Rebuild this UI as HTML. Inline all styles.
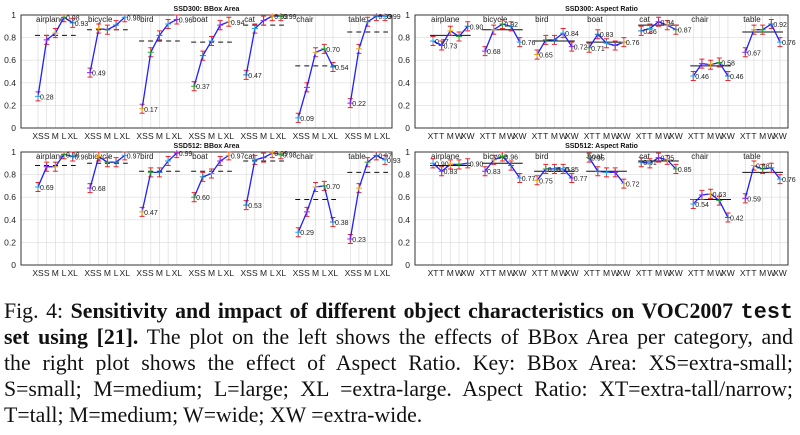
<!DOCTYPE html>
<html><head><meta charset="utf-8">
<style>
html,body{margin:0;padding:0;background:#fff;}
body{width:800px;height:435px;position:relative;overflow:hidden;}
svg{position:absolute;left:0;top:0;}
.cap{position:absolute;left:4px;width:789px;font-family:"Liberation Serif",serif;font-size:21.8px;line-height:26px;white-space:nowrap;color:#111;}
.j{text-align:justify;text-align-last:justify;white-space:normal;}
.mono{font-family:"Liberation Mono",monospace;font-weight:bold;}
</style></head>
<body>
<svg id="chart" width="800" height="290" font-family="Liberation Sans, sans-serif"></svg>

<div class="cap j" style="top:298px">Fig. 4: <b>Sensitivity and impact of different object characteristics on VOC2007 <span class="mono">test</span></b></div>
<div class="cap j" style="top:324px"><b>set using [21].</b> The plot on the left shows the effects of BBox Area per category, and</div>
<div class="cap j" style="top:350px">the right plot shows the effect of Aspect Ratio. Key: BBox Area: XS=extra-small;</div>
<div class="cap j" style="top:376px">S=small; M=medium; L=large; XL =extra-large. Aspect Ratio: XT=extra-tall/narrow;</div>
<div class="cap" style="top:402px">T=tall; M=medium; W=wide; XW =extra-wide.</div>

<script>
const categories = ["airplane","bicycle","bird","boat","cat","chair","table"];
const areaTicks = ["XS","S","M","L","XL"];
const ratioTicks = ["XT","T","M","W","XW"];
const yTicks = [0,0.2,0.4,0.6,0.8,1];
const errSize = 0.04;

const ssd300Area = [[0.28,0.78,0.84,0.98,0.93],[0.49,0.88,0.87,0.91,0.98],[0.17,0.67,0.82,0.92,0.96],[0.37,0.64,0.77,0.91,0.94],[0.47,0.88,0.95,0.99,0.99],[0.09,0.36,0.67,0.70,0.54],[0.22,0.70,0.94,0.99,0.99]];
const ssd300AreaAvg = [0.82,0.87,0.77,0.76,0.91,0.55,0.85];
const ssd300Ratio = [[0.77,0.73,0.86,0.81,0.90],[0.68,0.87,0.92,0.90,0.76],[0.65,0.78,0.78,0.84,0.72],[0.71,0.83,0.75,0.73,0.76],[0.86,0.88,0.94,0.91,0.87],[0.46,0.57,0.56,0.58,0.46],[0.67,0.87,0.87,0.92,0.76]];
const ssd300RatioAvg = [0.82,0.87,0.77,0.76,0.91,0.55,0.85];
const ssd512Area = [[0.69,0.87,0.87,0.98,0.96],[0.68,0.96,0.91,0.91,0.97],[0.47,0.82,0.82,0.92,0.99],[0.60,0.78,0.81,0.92,0.97],[0.53,0.93,0.95,0.99,0.98],[0.29,0.47,0.69,0.70,0.38],[0.23,0.68,0.91,0.97,0.93]];
const ssd512AreaAvg = [0.88,0.90,0.83,0.83,0.92,0.58,0.82];
const ssd512Ratio = [[0.90,0.83,0.89,0.89,0.90],[0.83,0.93,0.96,0.88,0.77],[0.75,0.85,0.85,0.85,0.77],[0.95,0.83,0.82,0.82,0.72],[0.91,0.90,0.95,0.93,0.85],[0.54,0.62,0.63,0.57,0.42],[0.59,0.88,0.85,0.86,0.76]];
const ssd512RatioAvg = [0.88,0.90,0.83,0.83,0.92,0.58,0.82];

const NS="http://www.w3.org/2000/svg";
const svg=document.getElementById('chart');
const markerColors=["#29a3e0","#8a2be2","#e8a317","#2ca02c","#1f77b4"];
function mk(tag,attrs,parent){const e=document.createElementNS(NS,tag);for(const k in attrs)e.setAttribute(k,attrs[k]);(parent||svg).appendChild(e);return e;}

function panel(cfg){
  const g=mk('g',{});
  
  
  const L=cfg.left,R=cfg.right,T=cfg.top,B=cfg.bottom,x0=cfg.x0,slot=8.675;
  const y=v=>B-(B-T)*v;
  const x=(gi,k)=>x0+(gi*6+k)*slot;
  yTicks.forEach(t=>{
    const l=mk('line',{x1:L,x2:R,y1:y(t),y2:y(t),stroke:'#dcdcdc','stroke-width':0.6},g);
    
    
    const tx=mk('text',{x:L-5,y:y(t)+3,'font-size':8.5,'text-anchor':'end',fill:'#222'},g);
    tx.textContent=String(t);
    
    
  });
  categories.forEach((c,gi)=>{
    cfg.ticks.forEach((tk,k)=>{
      const vl=mk('line',{x1:x(gi,k),x2:x(gi,k),y1:T,y2:B,stroke:'#dcdcdc','stroke-width':0.7},g);
      
      
      const lab=mk('text',{x:x(gi,k),y:B+11,'font-size':8.5,'text-anchor':'middle',fill:'#222'},g);
      lab.textContent=tk;
      
      
    });
  });
  const fr=mk('rect',{x:L,y:T,width:R-L,height:B-T,fill:'none',stroke:'#333','stroke-width':1},g);
  
  
  const ti=mk('text',{x:(L+R)/2,y:T-4,'font-size':7,'font-weight':'bold','text-anchor':'middle',fill:'#111'},g);
  ti.textContent=cfg.title;
  
  
  categories.forEach((c,gi)=>{
    const vals=cfg.data[gi];
    const cn=mk('text',{x:x(gi,0)-2,y:y(0.94),'font-size':8,fill:'#222'},g);
    cn.textContent=c;
    
    
    const av=mk('line',{x1:x(gi,0)-3,x2:x(gi,4)+3,y1:y(cfg.avg[gi]),y2:y(cfg.avg[gi]),stroke:'#111','stroke-width':1,'stroke-dasharray':cfg.dash},g);
    
    
    vals.forEach((v,k)=>{
      const xx=x(gi,k),a=y(Math.min(1,v+errSize)),b=y(v-errSize);
      const e=mk('path',{d:`M${xx},${a}V${b}M${xx-2.5},${a}h5M${xx-2.5},${b}h5`,stroke:'#e8262b','stroke-width':1,fill:'none'},g);
      
      
    });
    const pl=mk('polyline',{points:vals.map((v,k)=>x(gi,k)+','+y(v)).join(' '),fill:'none',stroke:'#1f1fff','stroke-width':1.3},g);
    
    
    vals.forEach((v,k)=>{
      const xx=x(gi,k),yy=y(v);
      const m=mk('path',{d:`M${xx-3},${yy}h6M${xx},${yy-3}v6`,stroke:markerColors[(gi+k)%5],'stroke-width':1},g);
      
      
      if(k===0||k===4||v===Math.min(...vals)||v===Math.max(...vals)){
        const vt=mk('text',{x:xx+2,y:yy+3,'font-size':7,fill:'#222'},g);
        vt.textContent=v.toFixed(2);
        
        
      }
    });
  });
}
panel({name:'ssd300-bbox-area',title:'SSD300: BBox Area',left:21,right:392,top:15,bottom:128,x0:38,ticks:areaTicks,data:ssd300Area,avg:ssd300AreaAvg,dash:'5,4'});
panel({name:'ssd300-aspect-ratio',title:'SSD300: Aspect Ratio',left:415,right:788,top:15,bottom:128,x0:433,ticks:ratioTicks,data:ssd300Ratio,avg:ssd300RatioAvg,dash:'none'});
panel({name:'ssd512-bbox-area',title:'SSD512: BBox Area',left:21,right:392,top:152,bottom:265,x0:38,ticks:areaTicks,data:ssd512Area,avg:ssd512AreaAvg,dash:'5,4'});
panel({name:'ssd512-aspect-ratio',title:'SSD512: Aspect Ratio',left:415,right:788,top:152,bottom:265,x0:433,ticks:ratioTicks,data:ssd512Ratio,avg:ssd512RatioAvg,dash:'none'});
</script>
</body></html>
